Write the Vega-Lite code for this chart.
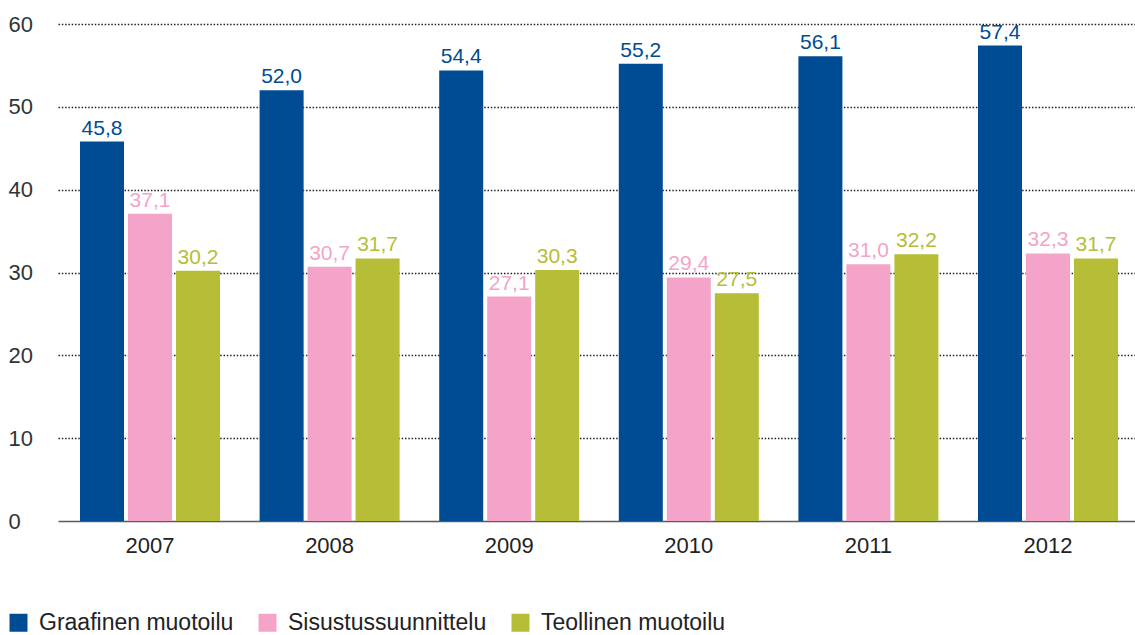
{
  "$schema": "https://vega.github.io/schema/vega-lite/v6.json",
  "width": 1077,
  "height": 497,
  "autosize": {"type": "none"},
  "padding": {"left": 58, "top": 24, "right": 0, "bottom": 114},
  "background": "#ffffff",
  "config": {
    "view": {"stroke": null},
    "font": "Liberation Sans",
    "locale": {"number": {"decimal": ",", "thousands": " ", "grouping": [3], "currency": ["", " €"]}}
  },
  "data": {
    "values": [
      {"year": "2007", "series": "Graafinen muotoilu", "value": 45.8},
      {"year": "2007", "series": "Sisustussuunnittelu", "value": 37.1},
      {"year": "2007", "series": "Teollinen muotoilu", "value": 30.2},
      {"year": "2008", "series": "Graafinen muotoilu", "value": 52.0},
      {"year": "2008", "series": "Sisustussuunnittelu", "value": 30.7},
      {"year": "2008", "series": "Teollinen muotoilu", "value": 31.7},
      {"year": "2009", "series": "Graafinen muotoilu", "value": 54.4},
      {"year": "2009", "series": "Sisustussuunnittelu", "value": 27.1},
      {"year": "2009", "series": "Teollinen muotoilu", "value": 30.3},
      {"year": "2010", "series": "Graafinen muotoilu", "value": 55.2},
      {"year": "2010", "series": "Sisustussuunnittelu", "value": 29.4},
      {"year": "2010", "series": "Teollinen muotoilu", "value": 27.5},
      {"year": "2011", "series": "Graafinen muotoilu", "value": 56.1},
      {"year": "2011", "series": "Sisustussuunnittelu", "value": 31.0},
      {"year": "2011", "series": "Teollinen muotoilu", "value": 32.2},
      {"year": "2012", "series": "Graafinen muotoilu", "value": 57.4},
      {"year": "2012", "series": "Sisustussuunnittelu", "value": 32.3},
      {"year": "2012", "series": "Teollinen muotoilu", "value": 31.7}
    ]
  },
  "encoding": {
    "x": {
      "field": "year", "type": "nominal",
      "scale": {"paddingInner": 0.2205, "paddingOuter": 0.1086, "align": 0.564},
      "axis": {
        "title": null, "labelAngle": 0, "ticks": false, "tickSize": 0,
        "domain": true, "domainColor": "#5a5a5a", "domainWidth": 1.5,
        "labelFontSize": 22, "labelColor": "#222222", "labelPadding": 14,
        "labelFont": "Liberation Sans"
      }
    },
    "xOffset": {
      "field": "series", "type": "nominal",
      "sort": ["Graafinen muotoilu", "Sisustussuunnittelu", "Teollinen muotoilu"],
      "scale": {"paddingInner": 0.083, "paddingOuter": 0}
    },
    "y": {
      "field": "value", "type": "quantitative",
      "scale": {"domain": [0, 60], "nice": false},
      "axis": {
        "title": null, "values": [0, 10, 20, 30, 40, 50, 60],
        "domain": false, "ticks": false, "tickSize": 0,
        "labelAlign": "left", "labelPadding": 50, "labelBaseline": "middle",
        "labelFontSize": 22, "labelColor": "#333333", "labelFont": "Liberation Sans",
        "grid": true, "gridColor": "#222222", "gridDash": [1.5, 1.8], "gridWidth": 1.5,
        "gridOpacity": {"condition": {"test": "datum.value === 0", "value": 0}, "value": 1}
      }
    },
    "color": {
      "field": "series", "type": "nominal",
      "sort": ["Graafinen muotoilu", "Sisustussuunnittelu", "Teollinen muotoilu"],
      "scale": {
        "domain": ["Graafinen muotoilu", "Sisustussuunnittelu", "Teollinen muotoilu"],
        "range": ["#004c94", "#f3a4c8", "#b5be36"]
      },
      "legend": {
        "title": null, "orient": "none", "direction": "horizontal",
        "legendX": -51, "legendY": 587, "padding": 0,
        "symbolType": "square", "symbolSize": 324, "symbolStrokeWidth": 0,
        "symbolOpacity": 1,
        "labelFontSize": 23, "labelColor": "#222222", "labelFont": "Liberation Sans",
        "labelOffset": 9, "columnPadding": 22, "labelLimit": 400
      }
    }
  },
  "layer": [
    {"mark": {"type": "bar", "opacity": 1}},
    {
      "mark": {"type": "text", "baseline": "alphabetic", "dy": -7, "fontSize": 21, "font": "Liberation Sans"},
      "encoding": {
        "text": {"field": "value", "type": "quantitative", "format": ".1f"},
        "color": {
          "field": "series", "type": "nominal",
          "scale": {
            "domain": ["Graafinen muotoilu", "Sisustussuunnittelu", "Teollinen muotoilu"],
            "range": ["#004c94", "#f3a4c8", "#b5be36"]
          },
          "legend": null
        }
      }
    }
  ]
}
